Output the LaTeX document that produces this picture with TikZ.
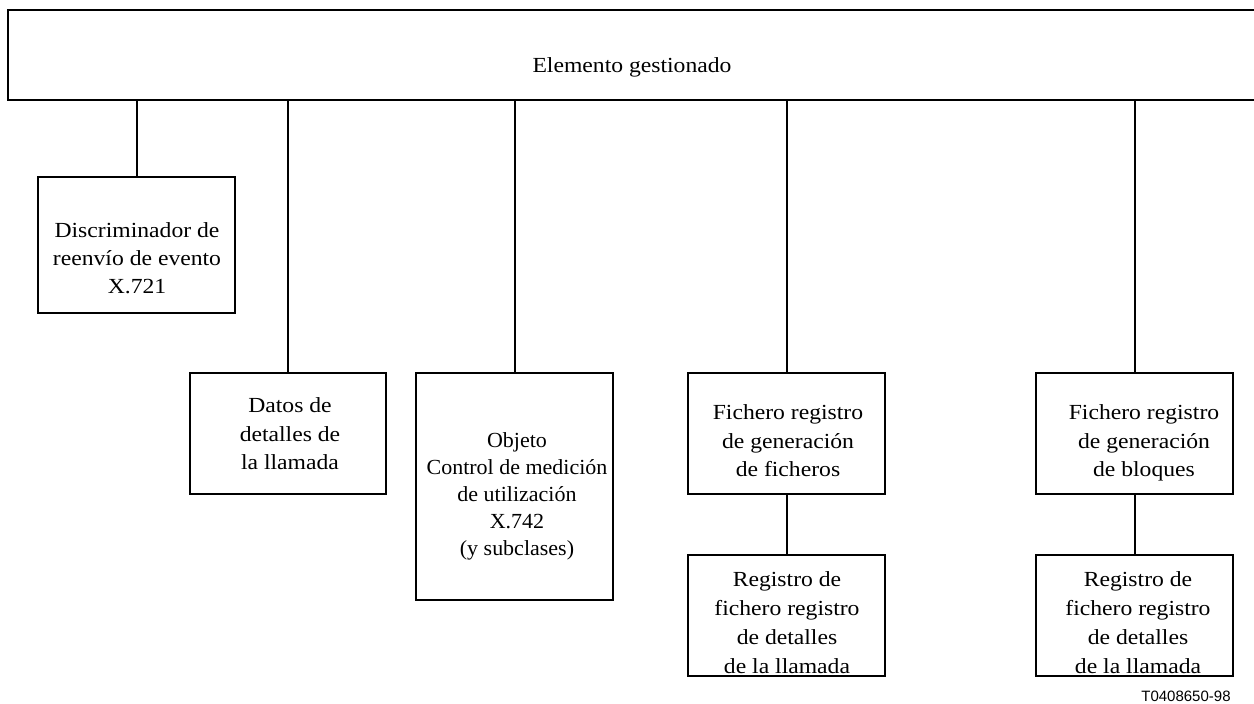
\documentclass[tikz,border=0pt]{standalone}
\usepackage{fontspec}
\setmainfont{Liberation Serif}[FakeStretch=1.1]
\newfontfamily\labelfont{Liberation Sans}
\newcommand{\mytxt}[2]{\fontsize{10.75pt}{#1}\selectfont\renewcommand{\arraystretch}{1}\begin{tabular}[t]{@{}c@{}}#2\end{tabular}}
\tikzset{
  box/.style={draw, line width=0.7pt, inner sep=0pt, minimum width=98.5pt, minimum height=60.5pt},
  txt/.style={anchor=base, inner sep=0pt},
  link/.style={line width=1pt}
}
\begin{document}
\begin{tikzpicture}[x=0.5pt,y=-0.5pt]
\useasboundingbox (0,0) rectangle (1254,704);
% boxes
\node[box, minimum width=624pt, minimum height=45pt] (top) at (632,55) {};
\node[box, minimum height=68pt] (disc) at (136.5,245) {};
\node[box, minimum width=98pt] (datos) at (288,433.5) {};
\node[box, minimum height=113.5pt] (obj) at (514.5,486.5) {};
\node[box] (fich) at (786.5,433.5) {};
\node[box] (regf) at (786.5,615.5) {};
\node[box] (bloq) at (1134.5,433.5) {};
\node[box] (regb) at (1134.5,615.5) {};
% texts
\node[txt] (topT) at (632,73) {\mytxt{14pt}{Elemento gestionado}};
\node[txt] (discT) at (137,238) {\mytxt{14pt}{Discriminador de\\reenvío de evento\\X.721}};
\node[txt] (datosT) at (290,413) {\mytxt{14.25pt}{Datos de\\detalles de\\la llamada}};
\node[txt] (objT) at (517,448) {\scalebox{0.93}[1]{\mytxt{13.4pt}{Objeto\\Control de medición\\de utilización\\X.742\\(y subclases)}}};
\node[txt] (fichT) at (788,420) {\mytxt{14.25pt}{Fichero registro\\de generación\\de ficheros}};
\node[txt] (regfT) at (787,587) {\mytxt{14.5pt}{Registro de\\fichero registro\\de detalles\\de la llamada}};
\node[txt] (bloqT) at (1144,420) {\mytxt{14.25pt}{Fichero registro\\de generación\\de bloques}};
\node[txt] (regbT) at (1138,587) {\mytxt{14.5pt}{Registro de\\fichero registro\\de detalles\\de la llamada}};
\node[anchor=base east, inner sep=0pt, font=\labelfont\fontsize{7.5pt}{9pt}\selectfont] (lbl) at (1231,702) {T0408650-98};
% connectors
\draw[link] (disc.north |- top.south) -- (disc.north);
\draw[link] (datos.north |- top.south) -- (datos.north);
\draw[link] (obj.north |- top.south) -- (obj.north);
\draw[link] (fich.north |- top.south) -- (fich.north);
\draw[link] (bloq.north |- top.south) -- (bloq.north);
\draw[link] (fich.south) -- (regf.north);
\draw[link] (bloq.south) -- (regb.north);
\end{tikzpicture}
\end{document}
